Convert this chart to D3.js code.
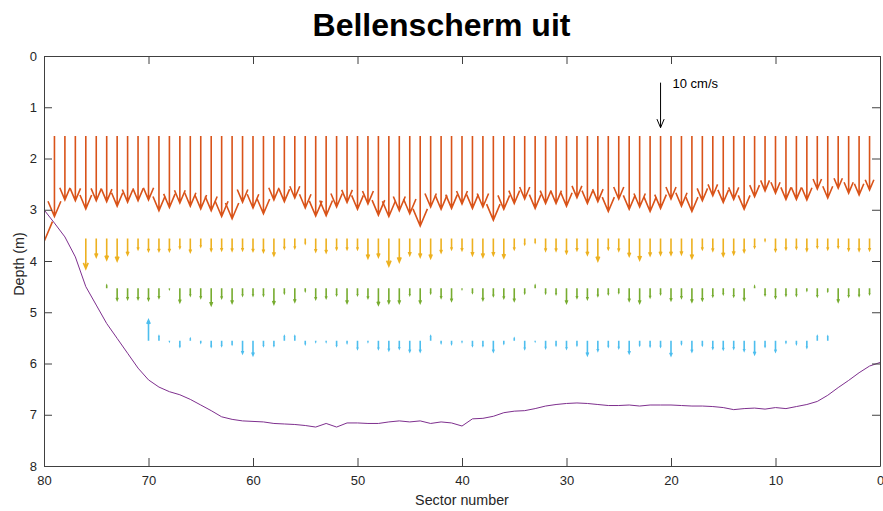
<!DOCTYPE html>
<html>
<head>
<meta charset="utf-8">
<script src="https://cdn.jsdelivr.net/npm/d3@7"></script>
<style>
  body { margin: 0; background: #fff; }
  svg { display: block; font-family: "Liberation Sans", Arial, sans-serif; }
</style>
</head>
<body>
<div id="chart"></div>
<script>
// sectors run from 80 down to 1; velocities in cm/s (positive = downward)
const redStart = 1.56;
const redV = [
  23.5, 17.9, 14.2, 14.4, 16.2, 14.4, 14.6, 15.6, 14.7, 14.4,
  14.2, 16.6, 15.9, 14.9, 15.6, 16.2, 16.6, 17.9, 18.4, 14.7,
  16.0, 17.3, 14.2, 14.6, 13.8, 16.0, 17.8, 17.7, 15.8, 14.8,
  16.3, 15.1, 17.6, 17.9, 16.6, 17.3, 20.0, 15.8, 16.3, 16.1,
  15.1, 16.1, 15.8, 18.7, 16.3, 15.0, 14.0, 16.1, 15.0, 15.0,
  15.6, 13.7, 15.0, 14.6, 16.8, 14.0, 16.3, 15.8, 16.8, 16.1,
  14.0, 15.6, 16.8, 14.4, 13.3, 14.8, 14.1, 16.3, 13.5, 12.2,
  12.7, 14.1, 14.1, 14.2, 11.8, 13.8, 11.6, 12.7, 13.1, 12.0,
];

// sectors 76 .. 1
const orangeStart = 3.56;
const orangeV = [
  6.7, 4.1, 4.7, 5.0, 3.6, 2.4, 2.8, 2.8, 2.8, 2.1,
  3.0, 1.8, 2.7, 2.6, 2.7, 2.6, 2.8, 3.0, 3.8, 2.2,
  2.1, 1.1, 2.9, 3.1, 2.4, 2.4, 2.4, 4.4, 4.1, 6.1,
  5.2, 3.7, 4.1, 4.4, 3.1, 2.4, 2.6, 3.7, 4.1, 3.7,
  4.3, 2.4, 1.3, 0.9, 2.7, 2.7, 3.3, 2.6, 3.6, 5.0,
  2.4, 2.7, 3.9, 4.8, 3.8, 3.6, 3.6, 3.5, 4.4, 2.4,
  2.7, 3.9, 3.5, 3.0, 2.0, 0.5, 2.8, 2.4, 2.2, 2.7,
  2.0, 2.4, 2.0, 2.6, 2.7, 2.6,
];

// sectors 74 .. 1
const greenStart = 4.53;
const greenV = [
  -0.6, 2.6, 2.4, 2.4, 2.6, 2.1, 0.15, 3.1, 1.6, 2.1,
  3.8, 2.2, 3.3, 1.6, 1.6, 1.6, 3.5, 1.1, 3.0, 0.6,
  2.4, 2.2, 1.5, 3.3, 1.5, 2.2, 3.7, 3.3, 3.3, 1.5,
  3.3, 1.1, 2.1, 2.8, 0.15, 1.0, 2.6, 1.7, 2.2, 2.8,
  1.1, -0.6, 1.1, 1.3, 3.3, 2.1, 2.4, 1.7, 1.3, 1.0,
  2.8, 3.3, 2.0, 1.3, 2.7, 2.1, 3.0, 2.7, 1.8, 1.3,
  1.8, 2.6, -0.4, 1.5, 2.1, 1.6, 1.6, 0.5, 1.8, 0.7,
  3.0, 1.8, 1.7, 1.3,
];

// sectors 70 .. 5
const blueStart = 5.555;
const blueV = [
  -4.6, -1.0, 0.1, 1.3, -0.4, 0.4, 1.3, 1.1, 0.8, 2.8,
  3.2, 1.1, 1.1, -1.0, -1.0, 0.7, 0.2, 0.2, 1.1, 0.5,
  1.8, 0.2, 1.8, 2.1, 1.7, 2.4, 2.4, -1.0, 0.5, 0.7,
  0.2, 1.1, 1.1, 2.4, 0.6, -0.5, 1.8, 0.1, 1.6, 1.0,
  1.7, 1.0, 3.2, 2.2, 1.3, 1.6, 2.8, 1.0, 1.2, 1.3,
  3.3, 0.7, 2.4, 1.0, 1.7, 1.9, 1.7, 2.2, 3.0, 1.3,
  2.4, 0.4, 0.7, 1.5, -1.0, -0.9,
];

// bottom depth per sector, 80 .. 0
const bottomDepth = [
  3.00, 3.26, 3.53, 3.92, 4.50, 4.86, 5.22, 5.51, 5.80, 6.09,
  6.32, 6.46, 6.55, 6.61, 6.70, 6.81, 6.92, 7.04, 7.09, 7.12,
  7.13, 7.14, 7.17, 7.18, 7.19, 7.21, 7.24, 7.17, 7.24, 7.16,
  7.16, 7.17, 7.17, 7.14, 7.12, 7.14, 7.12, 7.17, 7.14, 7.16,
  7.22, 7.08, 7.07, 7.03, 6.96, 6.93, 6.92, 6.88, 6.83, 6.80,
  6.78, 6.77, 6.78, 6.80, 6.82, 6.82, 6.81, 6.83, 6.81, 6.81,
  6.81, 6.82, 6.83, 6.83, 6.84, 6.86, 6.90, 6.88, 6.87, 6.89,
  6.86, 6.88, 6.84, 6.80, 6.74, 6.62, 6.47, 6.33, 6.18, 6.05,
  5.98,
];

const xTicks = [80, 70, 60, 50, 40, 30, 20, 10, 0];
const yTicks = [0, 1, 2, 3, 4, 5, 6, 7, 8];

const refSector = 21;
const refStart = 0.52;
const refV = 10;
const refLabel = "10 cm/s";

const width = 883;
const height = 511;
const margin = { top: 56, right: 3, bottom: 45, left: 44 };
const depthPerCms = 0.0878; // quiver scale, metres of depth per cm/s

const svg = d3
  .select("#chart")
  .append("svg")
  .attr("width", width)
  .attr("height", height);

const x = d3
  .scaleLinear()
  .domain([80, 0])
  .range([margin.left, width - margin.right]);
const y = d3
  .scaleLinear()
  .domain([0, 8])
  .range([margin.top, height - margin.bottom]);

svg
  .append("defs")
  .append("clipPath")
  .attr("id", "plotClip")
  .append("rect")
  .attr("x", x(80))
  .attr("y", y(0))
  .attr("width", x(0) - x(80))
  .attr("height", y(8) - y(0));

const plot = svg.append("g").attr("clip-path", "url(#plotClip)");

// turn a row of velocities into arrow records
function row(values, firstSector, start) {
  return values.map((v, i) => ({ s: firstSector - i, y0: start, v: v }));
}

function arrowPath(d) {
  const px = x(d.s);
  const py0 = y(d.y0);
  const py1 = y(d.y0 + d.v * depthPerCms);
  const len = py1 - py0;
  const hl = 0.19 * len;
  const hw = 0.08 * Math.abs(len);
  return (
    `M${px},${py0}L${px},${py1}` +
    `M${px - hw},${py1 - hl}L${px},${py1}L${px + hw},${py1 - hl}`
  );
}

const rows = [
  { data: row(redV, 80, redStart), color: "#D95319" },
  { data: row(orangeV, 76, orangeStart), color: "#EDB120" },
  { data: row(greenV, 74, greenStart), color: "#77AC30" },
  { data: row(blueV, 70, blueStart), color: "#4DBEEE" },
];

rows.forEach((r) => {
  plot
    .append("g")
    .selectAll("path")
    .data(r.data)
    .join("path")
    .attr("d", arrowPath)
    .attr("fill", "none")
    .attr("stroke", r.color)
    .attr("stroke-width", 1.6)
    .attr("stroke-linejoin", "miter");
});

// bottom profile
const line = d3
  .line()
  .x((d, i) => x(80 - i))
  .y((d) => y(d));

plot
  .append("path")
  .datum(bottomDepth)
  .attr("d", line)
  .attr("fill", "none")
  .attr("stroke", "#7E2F8E")
  .attr("stroke-width", 1);

// reference arrow
plot
  .append("path")
  .attr("d", arrowPath({ s: refSector, y0: refStart, v: refV }))
  .attr("fill", "none")
  .attr("stroke", "#000")
  .attr("stroke-width", 1);

svg
  .append("text")
  .attr("x", x(refSector) + 12)
  .attr("y", y(refStart) + 5)
  .style("font-size", "13px")
  .attr("fill", "#000")
  .text(refLabel);

// axes box with inward ticks
const axisColor = "#404040";
const textColor = "#262626";
const tickLen = 8;

const bottomAxis = svg
  .append("g")
  .attr("transform", `translate(0,${y(8)})`)
  .call(d3.axisBottom(x).tickValues(xTicks).tickSizeInner(-tickLen).tickSizeOuter(0).tickPadding(10));
const topAxis = svg
  .append("g")
  .attr("transform", `translate(0,${y(0)})`)
  .call(d3.axisTop(x).tickValues(xTicks).tickSizeInner(-tickLen).tickSizeOuter(0).tickFormat(""));
const leftAxis = svg
  .append("g")
  .attr("transform", `translate(${x(80)},0)`)
  .call(d3.axisLeft(y).tickValues(yTicks).tickSizeInner(-tickLen).tickSizeOuter(0).tickPadding(7));
const rightAxis = svg
  .append("g")
  .attr("transform", `translate(${x(0)},0)`)
  .call(d3.axisRight(y).tickValues(yTicks).tickSizeInner(-tickLen).tickSizeOuter(0).tickFormat(""));

[bottomAxis, topAxis, leftAxis, rightAxis].forEach((a) => {
  a.select(".domain").attr("stroke", axisColor).attr("stroke-width", 1);
  a.selectAll(".tick line").attr("stroke", axisColor).attr("stroke-width", 1);
  a.selectAll(".tick text")
    .attr("fill", textColor)
    .style("font-size", "13px")
    .style("font-family", '"Liberation Sans", Arial, sans-serif');
});

// titles
svg
  .append("text")
  .attr("x", 441.5)
  .attr("y", 36)
  .attr("text-anchor", "middle")
  .style("font-size", "32px")
  .style("font-weight", "bold")
  .attr("fill", "#000")
  .text("Bellenscherm uit");

svg
  .append("text")
  .attr("x", (x(80) + x(0)) / 2)
  .attr("y", 505)
  .attr("text-anchor", "middle")
  .style("font-size", "14.3px")
  .attr("fill", textColor)
  .text("Sector number");

svg
  .append("text")
  .attr("transform", `translate(24,${(y(0) + y(8)) / 2 + 3}) rotate(-90)`)
  .attr("text-anchor", "middle")
  .style("font-size", "14.3px")
  .attr("fill", textColor)
  .text("Depth (m)");
</script>
</body>
</html>
